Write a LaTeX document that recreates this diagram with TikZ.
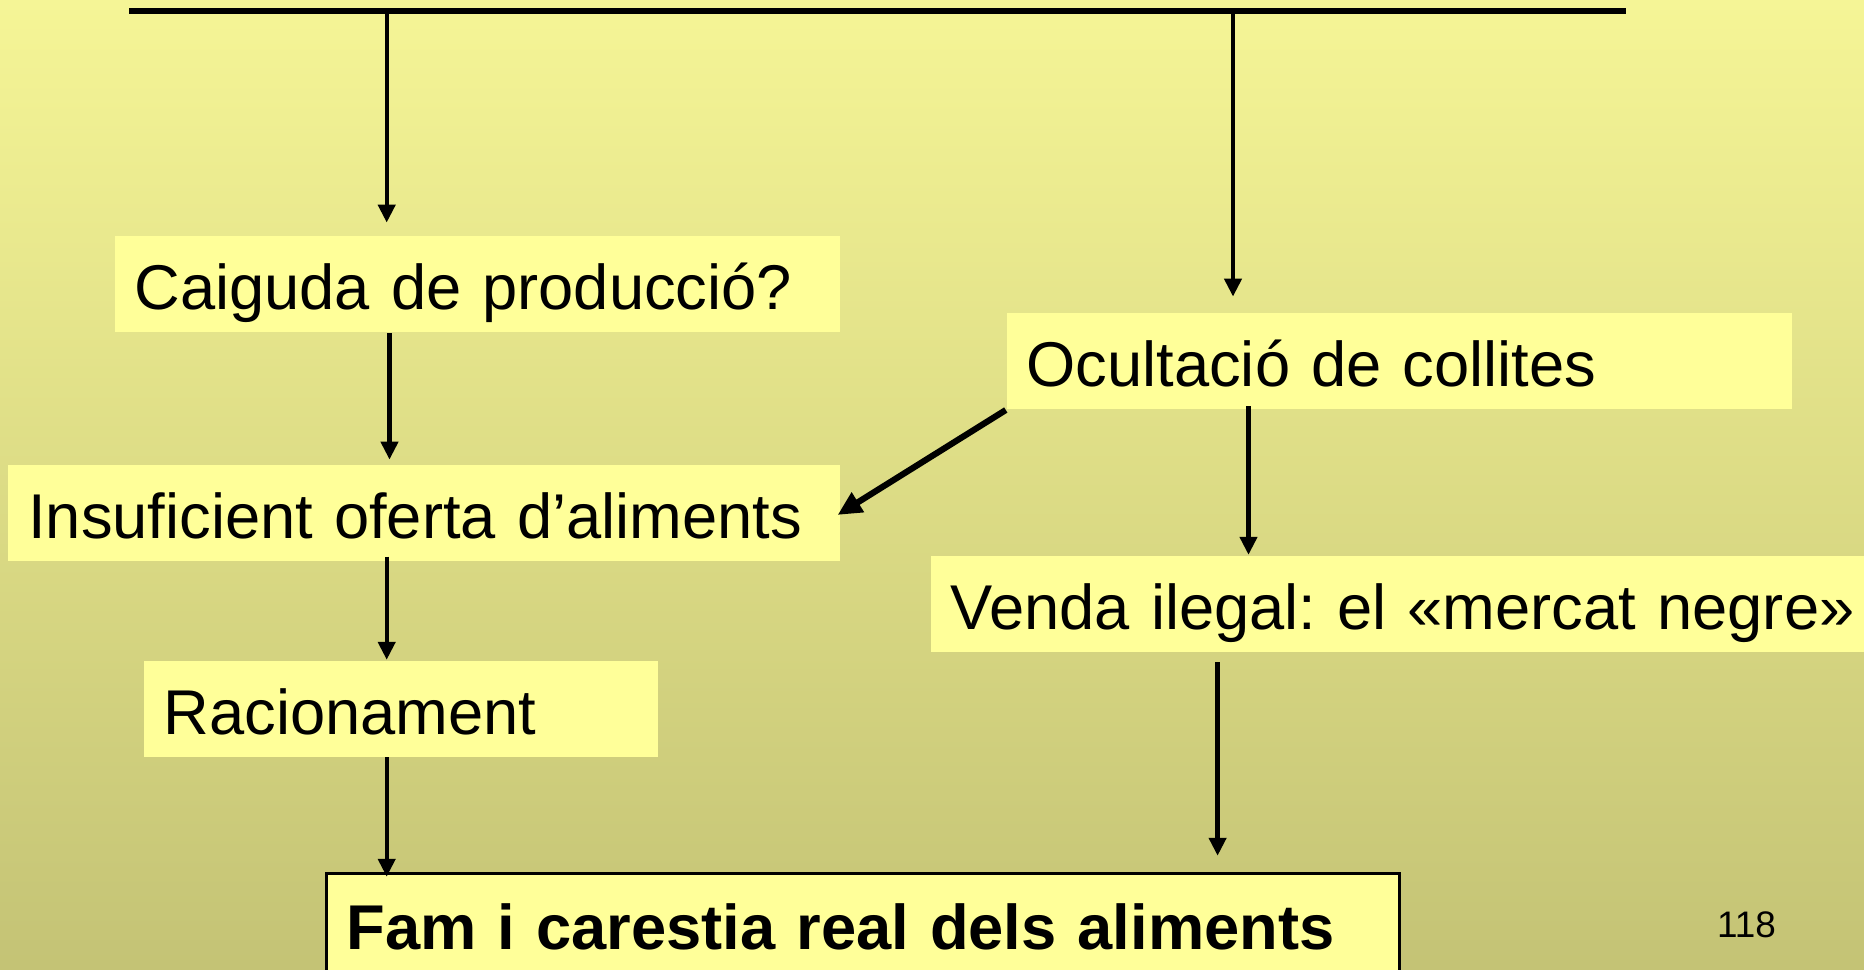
\documentclass[tikz,border=0pt]{standalone}
\usepackage{fontspec}
\setmainfont{Liberation Sans}
\usetikzlibrary{arrows.meta}

\definecolor{fonsdalt}{RGB}{245,245,150}
\definecolor{fonsbaix}{RGB}{196,195,117}
\definecolor{groc}{RGB}{255,255,153}

\begin{document}
\begin{tikzpicture}[
        every node/.style={font=\fontsize{18}{21.6}\selectfont\frenchspacing},
        caixa/.style={
            fill=groc,
            inner sep=0pt,
            inner xsep=0.2cm,
            minimum height=0.96cm,
            align=left,
            text height=0.51cm,
            text depth=0pt
        },
        line/.style={-{Triangle[width=0.17cm,length=0.18cm]}, line width=0.043cm},
        gruixut/.style={-{Triangle[width=0.22cm,length=0.24cm]}, line width=0.062cm},
        barra/.style={line width=0.06cm}
    ]

        % fons
        \useasboundingbox (0,0) rectangle (18.64,-9.69);
        \clip (0,0) rectangle (18.64,-9.69);
        \shade[top color=fonsdalt, bottom color=fonsbaix] (0,0) rectangle (18.64,-9.69);

        % columnes de les fletxes
        \coordinate (cA) at (3.867,0);
        \coordinate (cB) at (3.895,0);
        \coordinate (cC) at (12.33,0);
        \coordinate (cD) at (12.485,0);
        \coordinate (cE) at (12.176,0);

        % barra superior
        \coordinate (barraE) at (1.29,-0.112);
        \coordinate (barraD) at (16.26,-0.112);

        % 1. nivell
        \node[caixa, text width=6.85cm] (caig) at (4.77,-2.843) {Caiguda de producció?};
        \node[caixa, text width=7.45cm] (ocult) at (13.99,-3.613) {Ocultació de collites};

        % 2. nivell
        \node[caixa, text width=7.92cm] (insuf) at (4.243,-5.128) {Insuficient oferta d’aliments};
        \node[caixa, text width=9.3cm] (venda) at (14.157,-6.035) {Venda ilegal: el «mercat negre»};

        % 3. nivell
        \node[caixa, text width=4.74cm] (racio) at (4.006,-7.085) {Racionament};

        % 4. nivell
        \node[caixa, draw=black, line width=0.035cm, text width=10.33cm, minimum height=1.0cm,
              font=\fontsize{18}{21.6}\selectfont\bfseries] (fam) at (8.63,-9.235) {Fam i carestia real dels aliments};

        % número de pàgina
        \node[font=\fontsize{10.5}{12}\selectfont, anchor=base, inner sep=0pt] (pag) at (17.465,-9.37) {118};

        % fletxes
        \draw[barra] (barraE) -- (barraD);
        \draw[line, shorten >=0.13cm] (cA |- barraE) -- (cA |- caig.north);
        \draw[line, shorten >=0.16cm] (cC |- barraE) -- (cC |- ocult.north);

        \draw[line, shorten >=0.045cm] (cB |- caig.south) -- (cB |- insuf.north);
        \draw[line, shorten <=-0.05cm] (cA |- insuf.south) -- (cA |- racio.north);
        \draw[line, shorten >=-0.05cm] (cA |- racio.south) -- (cA |- fam.north);

        \draw[gruixut, shorten >=-0.04cm] (ocult.south west) -- (insuf.east);
        \draw[line, shorten <=-0.04cm] (cD |- ocult.south) -- (cD |- venda.north);
        \draw[line, shorten <=0.1cm, shorten >=0.16cm] (cE |- venda.south) -- (cE |- fam.north);

    \end{tikzpicture}
\end{document}
